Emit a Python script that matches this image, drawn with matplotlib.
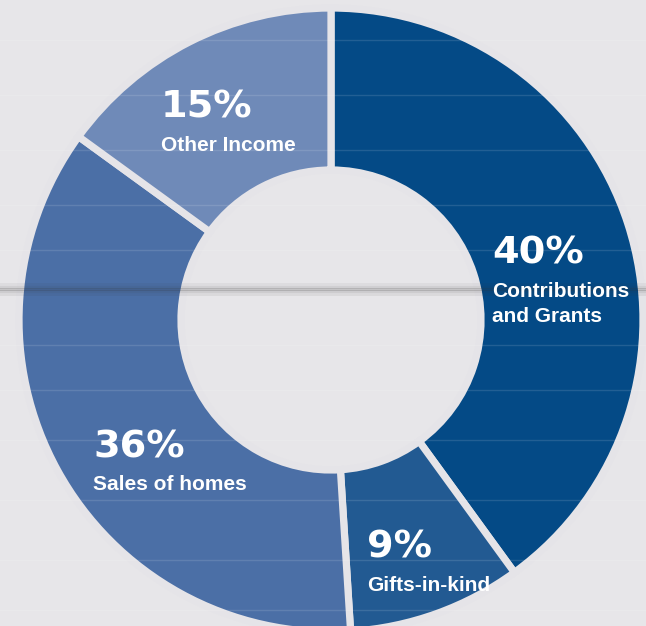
import matplotlib
matplotlib.use("Agg")
import matplotlib.pyplot as plt
import numpy as np

# revenue shares, clockwise from the top
labels = ["Contributions\nand Grants", "Gifts-in-kind", "Sales of homes", "Other Income"]
shares = [40, 9, 36, 15]
colors = ["#044a86", "#225a92", "#4b6fa6", "#6f8ab8"]
# where each label block starts (left edge, top of the % line), image pixels
label_pos = [(492, 236), (367, 530), (93, 429), (161, 90)]

W, H = 646, 626
fig = plt.figure(figsize=(W / 100, H / 100), dpi=100)
ax = fig.add_axes([0, 0, 1, 1])
fig.patch.set_facecolor("#e7e6e9")

cx, cy = 331, H - 320
gap = "#e5e4e8"
ax.pie(shares, colors=colors, startangle=90, counterclock=False,
       center=(cx, cy), radius=312,
       wedgeprops=dict(width=162, edgecolor=gap, linewidth=5.2))

# siding texture: faint grain lines and the groove across the picture
for y in [40, 95, 150, 205, 250, 345, 390, 440, 500, 560, 610]:
    ax.axhline(H - y, color="#ffffff", lw=1.0, alpha=0.12, zorder=3)
for y, a in [(284, 0.05), (287, 0.12), (289, 0.18), (291, 0.14), (294, 0.07)]:
    ax.axhline(H - y, color="#303030", lw=2.2, alpha=a, zorder=3)

for (x, y), lab, s in zip(label_pos, labels, shares):
    ax.text(x, H - y, f"{s}%", color="white", fontsize=27.5,
            fontweight="bold", family="DejaVu Sans", va="top", ha="left", zorder=5)
    ax.text(x, H - y - 46, lab, color="white", fontsize=15,
            fontweight="bold", family="Liberation Sans", va="top", ha="left",
            linespacing=1.4, zorder=5)

ax.set_xlim(0, W)
ax.set_ylim(0, H)
ax.set_aspect("auto")
ax.axis("off")
fig.savefig("out.png", dpi=100, facecolor=fig.get_facecolor())
